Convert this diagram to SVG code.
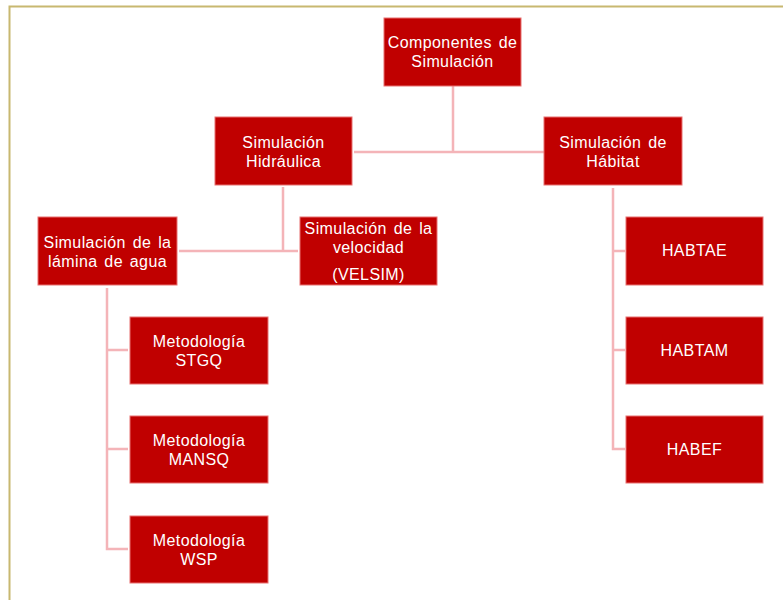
<svg xmlns="http://www.w3.org/2000/svg" width="783" height="600" viewBox="0 0 783 600">
<style>
.box{fill:#c00000;stroke:#e87070;stroke-width:1}
.t{font-family:"Liberation Sans",Arial,sans-serif;font-size:16px;letter-spacing:0.4px;word-spacing:2px;fill:#ffffff;text-anchor:middle}
.c{fill:none;stroke:#f4b4b8;stroke-width:2.5}
</style>
<rect x="0" y="0" width="783" height="600" fill="#ffffff"/>
<path d="M9.5,600 V6.5 H783" fill="none" stroke="#c8b870" stroke-width="2"/>
<g id="connectors">
<path class="c" d="M453,86 V152 M354,152 H544"/>
<path class="c" d="M283,187 V251 M179,251 H298"/>
<path class="c" d="M107,288 V549 H128 M107,350 H128 M107,449 H128"/>
<path class="c" d="M613,188 V449 H625 M613,350 H625 M613,251 H625"/>
</g>
<g id="root"><rect class="box" x="384" y="18" width="137" height="68"/><text class="t" x="452.5" y="48">Componentes de</text><text class="t" x="452.5" y="67">Simulación</text></g>
<g id="hidraulica"><rect class="box" x="215" y="117" width="137" height="68"/><text class="t" x="283.5" y="148">Simulación</text><text class="t" x="283.5" y="167">Hidráulica</text></g>
<g id="habitat"><rect class="box" x="544" y="117" width="138" height="68"/><text class="t" x="613" y="148">Simulación de</text><text class="t" x="613" y="167">Hábitat</text></g>
<g id="lamina"><rect class="box" x="38" y="217" width="139" height="68"/><text class="t" x="107.5" y="248">Simulación de la</text><text class="t" x="107.5" y="267">lámina de agua</text></g>
<g id="velocidad"><rect class="box" x="300" y="217" width="137" height="68"/><text class="t" x="368.5" y="234">Simulación de la</text><text class="t" x="368.5" y="253">velocidad</text><text class="t" x="368.5" y="280">(VELSIM)</text></g>
<g id="stgq"><rect class="box" x="130" y="317" width="138" height="67"/><text class="t" x="199" y="347">Metodología</text><text class="t" x="199" y="366">STGQ</text></g>
<g id="mansq"><rect class="box" x="130" y="416" width="138" height="67"/><text class="t" x="199" y="446">Metodología</text><text class="t" x="199" y="465">MANSQ</text></g>
<g id="wsp"><rect class="box" x="130" y="516" width="138" height="67"/><text class="t" x="199" y="546">Metodología</text><text class="t" x="199" y="565">WSP</text></g>
<g id="habtae"><rect class="box" x="626" y="217" width="137" height="68"/><text class="t" x="694.5" y="256">HABTAE</text></g>
<g id="habtam"><rect class="box" x="626" y="317" width="137" height="67"/><text class="t" x="694.5" y="356">HABTAM</text></g>
<g id="habef"><rect class="box" x="626" y="416" width="137" height="67"/><text class="t" x="694.5" y="455">HABEF</text></g>
</svg>
